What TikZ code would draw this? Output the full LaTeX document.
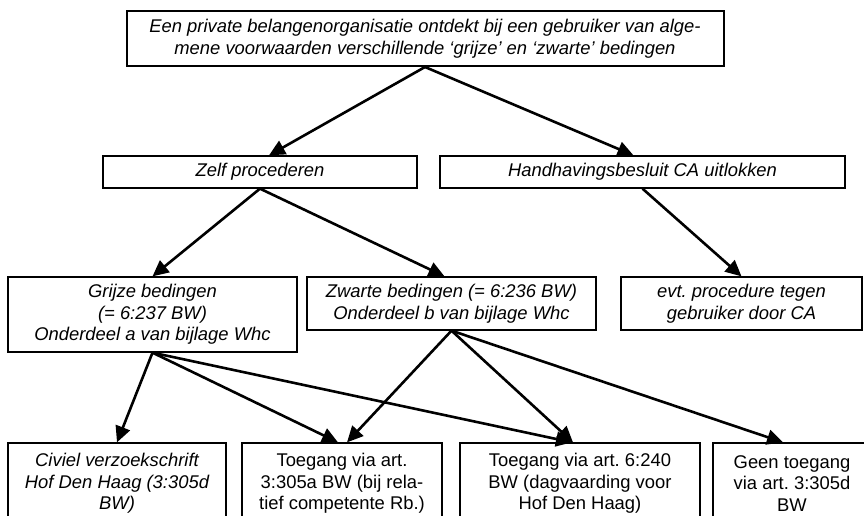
\documentclass[tikz,border=0pt]{standalone}
\usepackage{fontspec}
\setmainfont{Liberation Sans}
\frenchspacing
\usetikzlibrary{arrows.meta}

\begin{document}
\begin{tikzpicture}[x=1pt,y=-1pt,>={Triangle[length=16pt,width=15pt]},
  kader/.style={draw,line width=1.3pt,inner sep=0pt,align=center,
    font=\fontsize{18.4}{21.7}\selectfont\itshape},
  recht/.style={kader,font=\fontsize{18.4}{21.7}\selectfont},
  pijl/.style={->,line width=2.6pt}]
  \useasboundingbox (0,0) rectangle (864,515);
  \clip (0,0) rectangle (864,515);
  % bovenste vraag
  \node[kader,line width=2pt,minimum width=597pt,minimum height=55pt] (top) at (425,38.5)
    {Een private belangenorganisatie ontdekt bij een gebruiker van alge-\\mene voorwaarden verschillende ‘grijze’ en ‘zwarte’ bedingen};
  % tweede rij
  \node[kader,minimum width=314pt,minimum height=32pt] (zelf) at (260,172) {Zelf procederen};
  \node[kader,minimum width=405pt,minimum height=32pt] (hand) at (642.5,172) {Handhavingsbesluit CA uitlokken};
  % derde rij
  \node[kader,minimum width=289pt,minimum height=75pt] (grijs) at (152.5,314.5)
    {Grijze bedingen\\(= 6:237 BW)\\Onderdeel a van bijlage Whc};
  \node[kader,minimum width=289pt,minimum height=53pt] (zwart) at (451.5,303.5)
    {Zwarte bedingen (= 6:236 BW)\\Onderdeel b van bijlage Whc};
  \node[kader,minimum width=241pt,minimum height=53pt] (evt) at (741.5,303.5)
    {evt. procedure tegen\\gebruiker door CA};
  % onderste rij
  \node[kader,minimum width=218pt,minimum height=81pt] (civiel) at (117,483.5)
    {Civiel verzoekschrift\\Hof Den Haag (3:305d\\BW)};
  \node[recht,minimum width=200pt,minimum height=81pt] (toegA) at (342,483.5)
    {Toegang via art.\\3:305a BW (bij rela-\\tief competente Rb.)};
  \node[recht,minimum width=240pt,minimum height=81pt] (toegB) at (580,483.5)
    {Toegang via art. 6:240\\BW (dagvaarding voor\\Hof Den Haag)};
  \node[recht,minimum width=158pt,minimum height=81pt] (geen) at (792,483.5)
    {Geen toegang\\via art. 3:305d\\BW};
  % pijlen
  \draw[pijl] (top.south) -- ([xshift=9pt]zelf.north);
  \draw[pijl] (top.south) -- ([xshift=-9pt]hand.north);
  \draw[pijl] (zelf.south) -- (grijs.north);
  \draw[pijl] (zelf.south) -- ([xshift=-7pt]zwart.north);
  \draw[pijl] (hand.south) -- (evt.north);
  \draw[pijl] (grijs.south) -- (civiel.north);
  \draw[pijl] (grijs.south) -- ([xshift=-4pt]toegA.north);
  \draw[pijl] (grijs.south) -- ([xshift=-8pt]toegB.north);
  \draw[pijl] (zwart.south) -- ([xshift=5pt]toegA.north);
  \draw[pijl] (zwart.south) -- ([xshift=-7pt]toegB.north);
  \draw[pijl] (zwart.south) -- ([xshift=-9pt]geen.north);
\end{tikzpicture}
\end{document}
